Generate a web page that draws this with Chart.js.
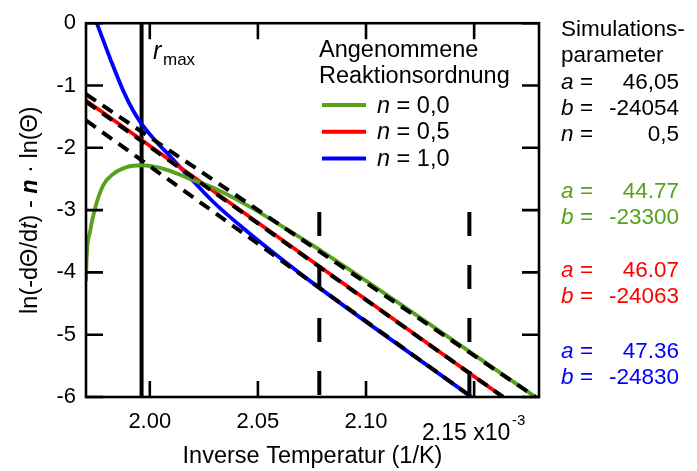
<!DOCTYPE html>
<html>
<head>
<meta charset="utf-8">
<script src="https://cdn.jsdelivr.net/npm/chart.js@4.4.0/dist/chart.umd.min.js"></script>
<style>
  html, body { margin: 0; padding: 0; background: #fff; }
  #wrap { width: 697px; height: 471px; }
</style>
</head>
<body>
<div id="wrap"><canvas id="chart" width="697" height="471"></canvas></div>
<script>
const FONT = '"Liberation Sans", Arial, sans-serif';

// assumed reaction orders (legend) and their colours
const orderLabels = ['0,0', '0,5', '1,0'];
const orderColors = ['#58a11c', '#ff0000', '#0000ff'];

// curves, x in 10^-3 1/K
const greenX = [1.9705, 1.9708, 1.9724, 1.9747, 1.9785, 1.9831, 1.9893, 1.9963, 2.0032, 2.0109, 2.0186, 2.0286, 2.0449, 2.0603, 2.0773, 2.1784];
const greenY = [-4.14, -3.77, -3.34, -2.97, -2.60, -2.42, -2.31, -2.28, -2.31, -2.39, -2.50, -2.63, -2.92, -3.24, -3.61, -6.00];
const redX = [1.9705, 2.1634];
const redY = [-1.24, -6.00];
const blueX = [1.9755, 1.9816, 1.9878, 1.9924, 1.9963, 2.0032, 2.0079, 2.0140, 2.0186, 2.0294, 2.0449, 2.0603, 2.0742, 2.1488];
const blueY = [0, -0.56, -1.09, -1.41, -1.62, -1.91, -2.08, -2.31, -2.48, -2.87, -3.34, -3.77, -4.14, -6.00];

// linear fits (black dashed), start and end points
const fitStartX = [1.9705, 1.9705, 1.9705];
const fitStartY = [-1.14, -1.26, -1.56];
const fitEndX = [2.1784, 2.1634, 2.1488];
const fitEndY = [-6, -6, -6];

// vertical markers
const rmaxX = 1.9962;
const markerX = [2.0784, 2.1478];
const markerTopY = -3.03;

// axes
const xTickValues = [2.00, 2.05, 2.10, 2.15];
const xTickLabels = ['2.00', '2.05', '2.10', ''];
const yTickValues = [0, -1, -2, -3, -4, -5, -6];

// parameter panel on the right
const paramNames = ['a', 'b', 'n', 'a', 'b', 'a', 'b', 'a', 'b'];
const paramValues = ['46,05', '-24054', '0,5', '44.77', '-23300', '46.07', '-24063', '47.36', '-24830'];
const paramColors = ['#000', '#000', '#000', orderColors[0], orderColors[0], orderColors[1], orderColors[1], orderColors[2], orderColors[2]];
const paramRowY = [89, 115, 141, 198, 224, 277, 303, 358, 384];

const pts = (xs, ys) => xs.map((x, i) => ({x: x, y: ys[i]}));

const datasets = [];
// fits on top
for (let i = 0; i < 3; i++) {
    datasets.push({
        data: [{x: fitStartX[i], y: fitStartY[i]}, {x: fitEndX[i], y: fitEndY[i]}],
        borderColor: '#000', borderWidth: 4, borderDash: [12, 8],
        pointRadius: 0, order: 0
    });
}
[[greenX, greenY], [redX, redY], [blueX, blueY]].forEach((s, i) => {
    datasets.push({
        data: pts(s[0], s[1]),
        borderColor: orderColors[i], borderWidth: 3.8,
        cubicInterpolationMode: 'monotone',
        pointRadius: 0, order: 1
    });
});
datasets.push({
    data: [{x: rmaxX, y: 0}, {x: rmaxX, y: -6}],
    borderColor: '#000', borderWidth: 4, pointRadius: 0, order: 2
});
markerX.forEach(mx => {
    datasets.push({
        data: [{x: mx, y: markerTopY}, {x: mx, y: -6}],
        borderColor: '#000', borderWidth: 4, borderDash: [24, 29],
        pointRadius: 0, order: 2
    });
});

// draw text pieces one after another
function drawRuns(ctx, x, y, runs) {
    runs.forEach(r => {
        ctx.font = r.font;
        ctx.fillText(r.t, x, y);
        x += ctx.measureText(r.t).width;
    });
}
function runsWidth(ctx, runs) {
    let w = 0;
    runs.forEach(r => { ctx.font = r.font; w += ctx.measureText(r.t).width; });
    return w;
}

const decor = {
    id: 'decor',
    afterDatasetsDraw(chart) {
        const {ctx, chartArea: a, scales: {x, y}} = chart;
        ctx.save();
        ctx.strokeStyle = '#000';
        ctx.lineWidth = 2.6;
        ctx.strokeRect(a.left, a.top, a.right - a.left, a.bottom - a.top);
        ctx.beginPath();
        yTickValues.forEach(v => {
            const p = y.getPixelForValue(v);
            ctx.moveTo(a.left, p); ctx.lineTo(a.left + 17, p);
            ctx.moveTo(a.right, p); ctx.lineTo(a.right - 17, p);
        });
        xTickValues.forEach(v => {
            const p = x.getPixelForValue(v);
            ctx.moveTo(p, a.bottom); ctx.lineTo(p, a.bottom - 16);
            ctx.moveTo(p, a.top); ctx.lineTo(p, a.top + 16);
        });
        ctx.stroke();
        ctx.restore();
    },
    afterDraw(chart) {
        const {ctx, chartArea: a} = chart;
        ctx.save();
        ctx.fillStyle = '#000';
        ctx.textBaseline = 'alphabetic';
        ctx.textAlign = 'left';

        // y axis title
        const f = '23.5px ' + FONT;
        const yRuns = [
            {t: 'ln(-d\u0398/d', font: f},
            {t: 't', font: 'italic ' + f},
            {t: ') - ', font: f},
            {t: 'n', font: 'italic bold ' + f},
            {t: ' \u00b7 ln(\u0398)', font: f}
        ];
        ctx.save();
        ctx.translate(37, (a.top + a.bottom) / 2);
        ctx.rotate(-Math.PI / 2);
        drawRuns(ctx, -runsWidth(ctx, yRuns) / 2, 0, yRuns);
        ctx.restore();

        // r_max label
        ctx.font = 'italic 25px ' + FONT;
        ctx.fillText('r', 153, 59);
        ctx.font = '17px ' + FONT;
        ctx.fillText('max', 163, 65);

        // exponent tick label
        ctx.font = '23px ' + FONT;
        ctx.fillText('2.15 x10', 422, 440);
        ctx.font = '15px ' + FONT;
        ctx.fillText('-3', 512, 425);

        // legend
        ctx.font = f;
        ctx.fillText('Angenommene', 319, 57);
        ctx.fillText('Reaktionsordnung', 319, 83);
        orderLabels.forEach((lab, i) => {
            const ly = 105 + i * 26.7;
            ctx.strokeStyle = orderColors[i];
            ctx.lineWidth = 4;
            ctx.beginPath();
            ctx.moveTo(322, ly); ctx.lineTo(366, ly);
            ctx.stroke();
            ctx.fillStyle = '#000';
            drawRuns(ctx, 377, ly + 7.5, [
                {t: 'n', font: 'italic ' + f},
                {t: ' = ' + lab, font: f}
            ]);
        });

        // parameter panel
        const pf = '22.5px ' + FONT;
        ctx.font = pf;
        ctx.fillStyle = '#000';
        ctx.fillText('Simulations-', 561, 36);
        ctx.fillText('parameter', 561, 62);
        paramNames.forEach((nm, i) => {
            ctx.fillStyle = paramColors[i];
            ctx.textAlign = 'left';
            ctx.font = 'italic ' + pf;
            ctx.fillText(nm, 561, paramRowY[i]);
            ctx.font = pf;
            ctx.fillText('=', 580, paramRowY[i]);
            ctx.textAlign = 'right';
            ctx.fillText(paramValues[i], 679, paramRowY[i]);
        });
        ctx.restore();
    }
};

new Chart(document.getElementById('chart').getContext('2d'), {
    type: 'line',
    data: { datasets: datasets },
    options: {
        responsive: false,
        animation: false,
        events: [],
        layout: { padding: { top: 20, right: 158, left: 0, bottom: 0 } },
        plugins: { legend: { display: false }, tooltip: { enabled: false } },
        scales: {
            x: {
                type: 'linear', min: 1.9705, max: 2.180,
                afterFit: s => { s.height = 74; },
                afterBuildTicks: s => { s.ticks = xTickValues.map(v => ({value: v})); },
                grid: { display: false, drawTicks: false },
                border: { display: false },
                ticks: {
                    padding: 12, color: '#000', font: { family: FONT, size: 22 },
                    maxRotation: 0, autoSkip: false,
                    callback: (v, i) => xTickLabels[i]
                },
                title: {
                    display: true, text: 'Inverse Temperatur (1/K)', color: '#000',
                    font: { family: FONT, size: 23.5 }, padding: { top: 0, bottom: 0 }
                }
            },
            y: {
                type: 'linear', min: -6, max: 0,
                afterFit: s => { s.width = 86; },
                afterBuildTicks: s => { s.ticks = yTickValues.map(v => ({value: v})); },
                grid: { display: false, drawTicks: false },
                border: { display: false },
                ticks: {
                    padding: 10, color: '#000', font: { family: FONT, size: 22 },
                    callback: v => String(v)
                }
            }
        }
    },
    plugins: [decor]
});
</script>
</body>
</html>
